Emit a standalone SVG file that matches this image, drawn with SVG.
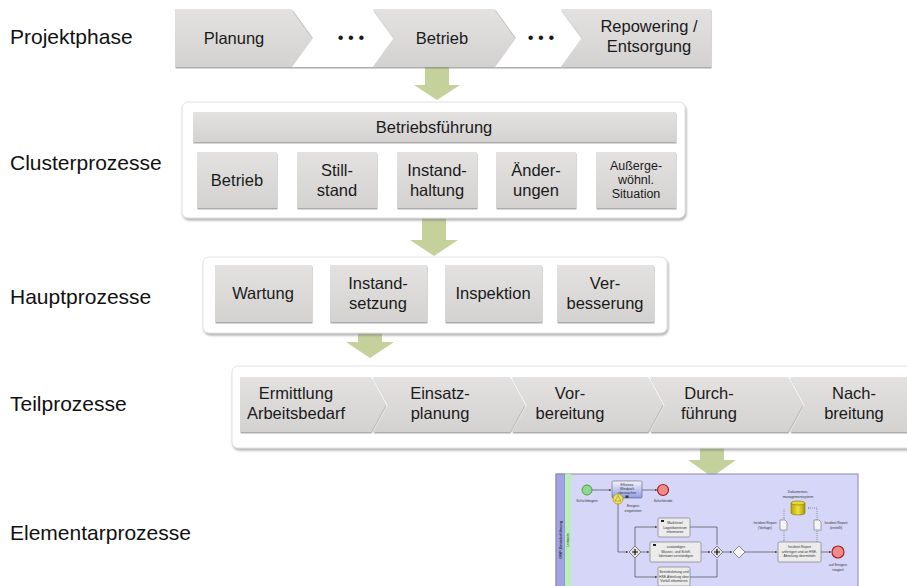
<svg xmlns="http://www.w3.org/2000/svg" width="907" height="586" viewBox="0 0 907 586">
<defs>
<linearGradient id="gg" x1="0" y1="0" x2="0" y2="1"><stop offset="0" stop-color="#e4e2e1"/><stop offset="1" stop-color="#d4d2d1"/></linearGradient>
<linearGradient id="bt" x1="0" y1="0" x2="0" y2="1"><stop offset="0" stop-color="#f4f4fc"/><stop offset="1" stop-color="#8f9be6"/></linearGradient>
<linearGradient id="ds" x1="0" y1="0" x2="1" y2="0"><stop offset="0" stop-color="#b8a800"/><stop offset="0.5" stop-color="#f0e040"/><stop offset="1" stop-color="#a89800"/></linearGradient>
<filter id="sh" x="-5%" y="-10%" width="110%" height="130%"><feDropShadow dx="1" dy="2" stdDeviation="1" flood-color="#777" flood-opacity="0.6"/></filter>
<filter id="shs" x="-5%" y="-10%" width="110%" height="130%"><feDropShadow dx="0.5" dy="1.5" stdDeviation="0.6" flood-color="#777" flood-opacity="0.6"/></filter>
<marker id="ah" viewBox="0 0 6 6" refX="6" refY="3" markerWidth="3" markerHeight="3" orient="auto"><path d="M0,0 L6,3 L0,6 Z" fill="#222"/></marker>
<marker id="ao" viewBox="0 0 6 6" refX="6" refY="3" markerWidth="3" markerHeight="3" orient="auto"><path d="M0,0 L6,3 L0,6" fill="none" stroke="#444"/></marker>
</defs>
<style>
.lbl{font-family:"Liberation Sans",Arial,sans-serif;font-size:21px;fill:#111}
.t{font-family:"Liberation Sans",Arial,sans-serif;font-size:16.5px;fill:#1a1a1a;text-anchor:middle}
.ts{font-family:"Liberation Sans",Arial,sans-serif;font-size:12.5px;fill:#1a1a1a;text-anchor:middle}
.box{fill:url(#gg);filter:url(#shs)}
.wchev{fill:#ffffff;filter:url(#shs)}
.cont{fill:#ffffff;stroke:#e2e2e2;stroke-width:1;filter:url(#sh)}
.garrow{fill:#c4d19b}
.bt{font-family:"Liberation Sans",Arial,sans-serif;font-size:3.4px;fill:#333;text-anchor:middle}
.bl{fill:none;stroke:#333;stroke-width:0.6}
.bd{fill:none;stroke:#444;stroke-width:0.5;stroke-dasharray:1 1}
.task{fill:#ececec;stroke:#555;stroke-width:0.5}
.gw{fill:#e0e0e0;stroke:#444;stroke-width:0.6}
</style>

<g id="labels">
<text class="lbl" x="10" y="44">Projektphase</text>
<text class="lbl" x="10" y="170">Clusterprozesse</text>
<text class="lbl" x="10" y="304">Hauptprozesse</text>
<text class="lbl" x="10" y="411">Teilprozesse</text>
<text class="lbl" x="10" y="540">Elementarprozesse</text>
</g>

<g id="connectors">
<path class="garrow" d="M425,67 H449 V85 H460 L437,100 L414,85 H425 Z"/>
<path class="garrow" d="M422,208 H446 V240 H458 L434,256 L410,240 H422 Z"/>
<path class="garrow" d="M358,322 H382 V342 H394 L370,358 L346,342 H358 Z"/>
<path class="garrow" d="M700,432 H724 V460 H736 L712,477 L688,460 H700 Z"/>
</g>

<g id="projektphase">
<g id="p-planung"><path class="box" d="M175,9 H292 L313,38 L292,67 H175 Z"/><text class="t" x="234" y="44">Planung</text></g>
<g id="p-dots1"><path class="wchev" d="M292,9 H373 L394,38 L373,67 H292 L313,38 Z"/><text class="t" x="351" y="43">• • •</text></g>
<g id="p-betrieb"><path class="box" d="M373,9 H495 L516,38 L495,67 H373 L394,38 Z"/><text class="t" x="442" y="44">Betrieb</text></g>
<g id="p-dots2"><path class="wchev" d="M495,9 H561 L582,38 L561,67 H495 L516,38 Z"/><text class="t" x="541" y="43">• • •</text></g>
<g id="p-repowering"><path class="box" d="M561,9 H711 V67 H561 L582,38 Z"/><text class="t" x="649" y="32">Repowering /</text><text class="t" x="649" y="52">Entsorgung</text></g>
</g>

<g id="cluster">
<rect class="cont" x="182" y="102" width="503" height="116" rx="6"/>
<g id="c-header"><rect class="box" x="193" y="112" width="483" height="30"/><text class="t" x="434" y="133">Betriebsführung</text></g>
<g id="c-betrieb"><rect class="box" x="197" y="152" width="80" height="56"/><text class="t" x="237" y="186">Betrieb</text></g>
<g id="c-stillstand"><rect class="box" x="297" y="152" width="80" height="56"/><text class="t" x="337" y="176">Still-</text><text class="t" x="337" y="196">stand</text></g>
<g id="c-instandhaltung"><rect class="box" x="397" y="152" width="80" height="56"/><text class="t" x="437" y="176">Instand-</text><text class="t" x="437" y="196">haltung</text></g>
<g id="c-aenderungen"><rect class="box" x="496" y="152" width="80" height="56"/><text class="t" x="536" y="176">Änder-</text><text class="t" x="536" y="196">ungen</text></g>
<g id="c-ausserge"><rect class="box" x="596" y="152" width="80" height="56"/><text class="ts" x="636" y="170">Außerge-</text><text class="ts" x="636" y="184">wöhnl.</text><text class="ts" x="636" y="198">Situation</text></g>
</g>

<g id="haupt">
<rect class="cont" x="203" y="257" width="464" height="76" rx="6"/>
<g id="h-wartung"><rect class="box" x="215" y="265" width="97" height="57"/><text class="t" x="263" y="299">Wartung</text></g>
<g id="h-instandsetzung"><rect class="box" x="330" y="265" width="97" height="57"/><text class="t" x="378" y="289">Instand-</text><text class="t" x="378" y="309">setzung</text></g>
<g id="h-inspektion"><rect class="box" x="445" y="265" width="97" height="57"/><text class="t" x="493" y="299">Inspektion</text></g>
<g id="h-verbesserung"><rect class="box" x="557" y="265" width="97" height="57"/><text class="t" x="605" y="289">Ver-</text><text class="t" x="605" y="309">besserung</text></g>
</g>

<g id="teil">
<rect class="cont" x="232" y="366" width="690" height="82" rx="6"/>
<g id="t-ermittlung"><path class="box" d="M240,377 H371 L386,404.5 L371,432 H240 Z"/><text class="t" x="296" y="399">Ermittlung</text><text class="t" x="296" y="419">Arbeitsbedarf</text></g>
<g id="t-einsatz"><path class="box" d="M373,377 H510 L525,404.5 L510,432 H373 L388,404.5 Z"/><text class="t" x="440" y="399">Einsatz-</text><text class="t" x="440" y="419">planung</text></g>
<g id="t-vor"><path class="box" d="M512,377 H648 L663,404.5 L648,432 H512 L527,404.5 Z"/><text class="t" x="570" y="399">Vor-</text><text class="t" x="570" y="419">bereitung</text></g>
<g id="t-durch"><path class="box" d="M650,377 H788 L803,404.5 L788,432 H650 L665,404.5 Z"/><text class="t" x="709" y="399">Durch-</text><text class="t" x="709" y="419">führung</text></g>
<g id="t-nach"><path class="box" d="M790,377 H912 V432 H790 L805,404.5 Z"/><text class="t" x="854" y="399">Nach-</text><text class="t" x="854" y="419">breitung</text></g>
</g>

<g id="elementar">
<rect x="556" y="474" width="302" height="118" fill="#d6d6f8" stroke="#8a8aa8" stroke-width="1"/>
<rect x="556" y="474" width="9" height="118" fill="#a2a2e6" stroke="#6a6aa0" stroke-width="0.5"/>
<rect x="565" y="474" width="6" height="118" fill="#b6f0b6"/>
<text class="bt" transform="translate(562,540) rotate(-90)" style="font-weight:bold;font-size:3.6px">OWP-Betriebsführung</text>
<text class="bt" transform="translate(569,540) rotate(-90)">Leitwarte</text>
<path class="bl" d="M592,490 H611" marker-end="url(#ah)"/>
<path class="bl" d="M642,490 H657" marker-end="url(#ah)"/>
<path class="bl" d="M618,503 V552 H628" marker-end="url(#ah)"/>
<path class="bl" d="M635,546 V527 H657" marker-end="url(#ah)"/>
<path class="bl" d="M641,552 H649" marker-end="url(#ah)"/>
<path class="bl" d="M635,558 V577 H657" marker-end="url(#ah)"/>
<path class="bl" d="M690,527 H717 V545"/>
<path class="bl" d="M701,552 H710" marker-end="url(#ah)"/>
<path class="bl" d="M690,577 H717 V559"/>
<path class="bl" d="M723,552 H732" marker-end="url(#ah)"/>
<path class="bl" d="M745,552 H777" marker-end="url(#ah)"/>
<path class="bl" d="M821,552 H831" marker-end="url(#ah)"/>
<path class="bd" d="M784,509 V519" marker-end="url(#ao)"/>
<path class="bd" d="M784,531 V541" marker-end="url(#ao)"/>
<path class="bd" d="M817,542 V531"/>
<path class="bd" d="M817,520 V508 H808" marker-end="url(#ao)"/>
<circle cx="587" cy="490" r="5" fill="#8fd88f" stroke="#2f8f2f" stroke-width="0.8"/>
<text class="bt" x="587" y="502">Schichtbeginn</text>
<rect x="612" y="481" width="30" height="17" rx="1.5" fill="url(#bt)" stroke="#445" stroke-width="0.5"/>
<text class="bt" x="627" y="486">Effizienz</text><text class="bt" x="627" y="490">Windpark</text><text class="bt" x="627" y="494">überwachen</text>
<rect x="625.5" y="495.5" width="3" height="2.5" fill="#333"/>
<circle cx="618" cy="499" r="5" fill="#f0e268" stroke="#a89a10" stroke-width="0.8"/>
<path d="M618,495.5 L621,501 H615 Z" fill="none" stroke="#7a7010" stroke-width="0.5"/>
<text class="bt" x="633" y="507">Ereignis</text><text class="bt" x="633" y="512">eingetreten</text>
<circle cx="663" cy="490" r="5.5" fill="#f28a8a" stroke="#a02020" stroke-width="1.2"/>
<text class="bt" x="663" y="502">Schichtende</text>
<rect class="task" x="658" y="518" width="32" height="19" rx="1.5"/>
<rect x="661" y="520" width="3" height="2" fill="#222"/>
<text class="bt" x="675" y="524">Marktinsel</text><text class="bt" x="675" y="528.5">Logistikzentrum</text><text class="bt" x="675" y="533">informieren</text>
<rect class="task" x="650" y="542" width="51" height="20" rx="1.5"/>
<rect x="653" y="544" width="3" height="2" fill="#222"/>
<text class="bt" x="676" y="548">zuständigen</text><text class="bt" x="676" y="552.5">Wasser- und Schiff-</text><text class="bt" x="676" y="557">fahrtsamt verständigen</text>
<rect class="task" x="658" y="567" width="32" height="19" rx="1.5"/>
<text class="bt" x="674" y="573">Betriebsleitung und</text><text class="bt" x="674" y="577.5">HSE-Abteilung über</text><text class="bt" x="674" y="582">Vorfall informieren</text>
<path class="gw" d="M635,546 L641,552 L635,558 L629,552 Z"/>
<path d="M632,552 H638 M635,549 V555" stroke="#111" stroke-width="1.2"/>
<path class="gw" d="M717,546 L723,552 L717,558 L711,552 Z"/>
<path d="M714,552 H720 M717,549 V555" stroke="#111" stroke-width="1.2"/>
<path d="M739,546 L745,552 L739,558 L733,552 Z" fill="#f8f8f8" stroke="#444" stroke-width="0.6"/>
<rect class="task" x="778" y="542" width="43" height="20" rx="1.5"/>
<text class="bt" x="799.5" y="548">Incident Report</text><text class="bt" x="799.5" y="552.5">anfertigen und an HSE-</text><text class="bt" x="799.5" y="557">Abteilung übermitteln</text>
<circle cx="838" cy="552" r="6" fill="#f28a8a" stroke="#a02020" stroke-width="1.2"/>
<text class="bt" x="838" y="566">auf Ereignis</text><text class="bt" x="838" y="571">reagiert</text>
<path d="M791,503 V513 A7,2 0 0 0 805,513 V503 Z" fill="url(#ds)" stroke="#6a6000" stroke-width="0.5"/>
<ellipse cx="798" cy="503" rx="7" ry="2" fill="#e8d830" stroke="#6a6000" stroke-width="0.5"/>
<text class="bt" x="798" y="493">Dokumenten-</text><text class="bt" x="798" y="497.5">managementsystem</text>
<path d="M780,520 H785 L787,522 V530 H780 Z" fill="#f4f4f4" stroke="#555" stroke-width="0.5"/>
<text class="bt" x="765" y="524">Incident Report</text><text class="bt" x="765" y="528.5">(Vorlage)</text>
<path d="M814,520 H819 L821,522 V530 H814 Z" fill="#f4f4f4" stroke="#555" stroke-width="0.5"/>
<text class="bt" x="836" y="524">Incident Report</text><text class="bt" x="836" y="528.5">(erstellt)</text>
</g>
</svg>
